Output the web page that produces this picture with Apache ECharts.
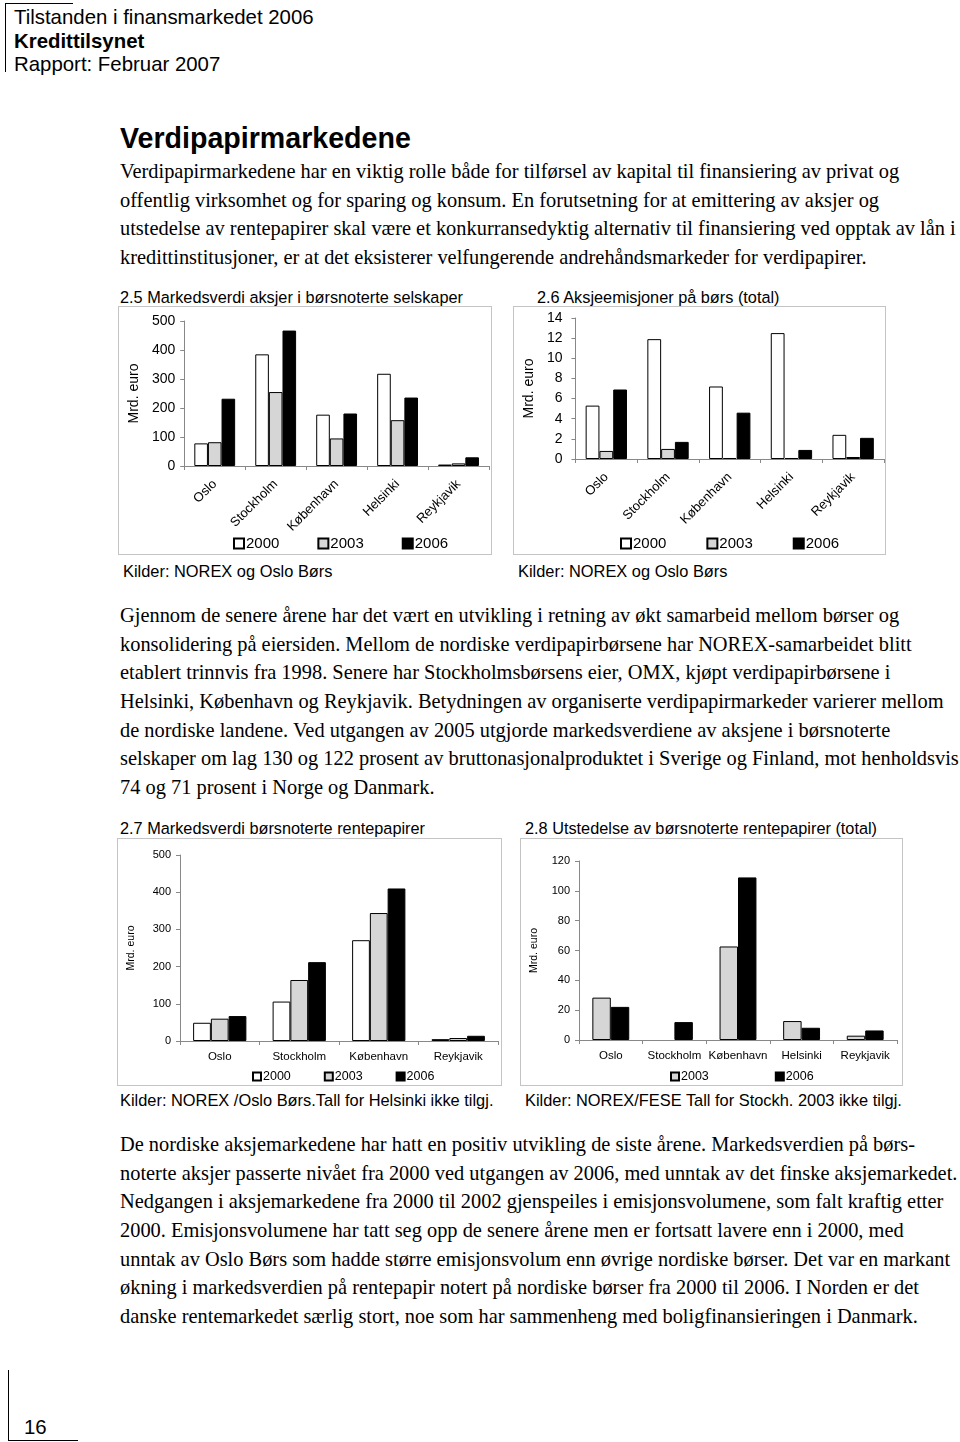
<!DOCTYPE html>
<html><head><meta charset="utf-8">
<script src="https://cdn.jsdelivr.net/npm/echarts@6/dist/echarts.min.js"></script>
<style>
html,body{margin:0;padding:0;background:#fff;}
body{width:960px;height:1442px;position:relative;overflow:hidden;}
.abs{position:absolute;white-space:nowrap;color:#000;}
.sans{font-family:"Liberation Sans",Arial,sans-serif;}
.serif{font-family:"Liberation Serif","Times New Roman",serif;font-size:20.4px;line-height:28.67px;}
.frame{position:absolute;border:1px solid #c4c4c4;box-sizing:border-box;}
.ctitle{font-size:16.3px;line-height:18px;}
.kil{font-size:16.4px;line-height:18px;}
</style></head><body>
<div style="position:absolute;left:5px;top:3px;width:68px;height:1px;background:#000"></div>
<div style="position:absolute;left:5px;top:3px;width:1px;height:69px;background:#000"></div>
<div class="abs sans" style="left:14px;top:6px;font-size:20.4px;line-height:23.5px;">Tilstanden i finansmarkedet 2006<br><b>Kredittilsynet</b><br>Rapport: Februar 2007</div>

<div class="abs sans" style="left:120px;top:121px;font-size:28.6px;line-height:34px;font-weight:bold;">Verdipapirmarkedene</div>
<div class="abs serif" style="left:120px;top:157px;">Verdipapirmarkedene har en viktig rolle både for tilførsel av kapital til finansiering av privat og<br>offentlig virksomhet og for sparing og konsum. En forutsetning for at emittering av aksjer og<br>utstedelse av rentepapirer skal være et konkurransedyktig alternativ til finansiering ved opptak av lån i<br>kredittinstitusjoner, er at det eksisterer velfungerende andrehåndsmarkeder for verdipapirer.</div>

<div class="abs sans ctitle" style="left:120px;top:288px;">2.5 Markedsverdi aksjer i børsnoterte selskaper</div>
<div class="abs sans ctitle" style="left:537px;top:288px;">2.6 Aksjeemisjoner på børs (total)</div>
<div id="c1" class="frame" style="left:118px;top:306px;width:374px;height:249px;"></div>
<div id="c2" class="frame" style="left:513px;top:306px;width:373px;height:249px;"></div>
<div class="abs sans kil" style="left:123px;top:562px;">Kilder: NOREX og Oslo Børs</div>
<div class="abs sans kil" style="left:518px;top:562px;">Kilder: NOREX og Oslo Børs</div>

<div class="abs serif" style="left:120px;top:601px;">Gjennom de senere årene har det vært en utvikling i retning av økt samarbeid mellom børser og<br>konsolidering på eiersiden. Mellom de nordiske verdipapirbørsene har NOREX-samarbeidet blitt<br>etablert trinnvis fra 1998. Senere har Stockholmsbørsens eier, OMX, kjøpt verdipapirbørsene i<br>Helsinki, København og Reykjavik. Betydningen av organiserte verdipapirmarkeder varierer mellom<br>de nordiske landene. Ved utgangen av 2005 utgjorde markedsverdiene av aksjene i børsnoterte<br>selskaper om lag 130 og 122 prosent av bruttonasjonalproduktet i Sverige og Finland, mot henholdsvis<br>74 og 71 prosent i Norge og Danmark.</div>

<div class="abs sans ctitle" style="left:120px;top:819px;">2.7 Markedsverdi børsnoterte rentepapirer</div>
<div class="abs sans ctitle" style="left:525px;top:819px;">2.8 Utstedelse av børsnoterte rentepapirer (total)</div>
<div id="c3" class="frame" style="left:117px;top:838px;width:385px;height:248px;"></div>
<div id="c4" class="frame" style="left:520px;top:838px;width:383px;height:248px;"></div>
<div class="abs sans kil" style="left:120px;top:1091px;">Kilder: NOREX /Oslo Børs.Tall for Helsinki ikke tilgj.</div>
<div class="abs sans kil" style="left:525px;top:1091px;">Kilder: NOREX/FESE Tall for Stockh. 2003 ikke tilgj.</div>

<div class="abs serif" style="left:120px;top:1130px;">De nordiske aksjemarkedene har hatt en positiv utvikling de siste årene. Markedsverdien på børs-<br>noterte aksjer passerte nivået fra 2000 ved utgangen av 2006, med unntak av det finske aksjemarkedet.<br>Nedgangen i aksjemarkedene fra 2000 til 2002 gjenspeiles i emisjonsvolumene, som falt kraftig etter<br>2000. Emisjonsvolumene har tatt seg opp de senere årene men er fortsatt lavere enn i 2000, med<br>unntak av Oslo Børs som hadde større emisjonsvolum enn øvrige nordiske børser. Det var en markant<br>økning i markedsverdien på rentepapir notert på nordiske børser fra 2000 til 2006. I Norden er det<br>danske rentemarkedet særlig stort, noe som har sammenheng med boligfinansieringen i Danmark.</div>

<div style="position:absolute;left:8px;top:1370px;width:1px;height:71px;background:#000"></div>
<div style="position:absolute;left:8px;top:1440px;width:70px;height:1px;background:#000"></div>
<div class="abs sans" style="left:24px;top:1415px;font-size:20.4px;line-height:24px;">16</div>

<script>
// ---- data ----
const catsAll = ['Oslo', 'Stockholm', 'København', 'Helsinki', 'Reykjavik'];
const years3 = ['2000', '2003', '2006'];
// 2.5 Markedsverdi aksjer (Mrd. euro)
const mv2000 = [78, 385, 177, 318, 5];
const mv2003 = [82, 255, 95, 158, 9];
const mv2006 = [232, 467, 181, 236, 30];
// 2.6 Aksjeemisjoner (Mrd. euro)
const em2000 = [5.3, 11.9, 7.2, 12.5, 2.4];
const em2003 = [0.8, 1.0, 0.1, 0.1, 0.2];
const em2006 = [6.9, 1.7, 4.6, 0.9, 2.1];
// 2.7 Markedsverdi rentepapirer (Mrd. euro)
const catsRente = ['Oslo', 'Stockholm', 'København', 'Reykjavik'];
const rv2000 = [49, 106, 271, 5];
const rv2003 = [60, 164, 344, 8];
const rv2006 = [67, 212, 410, 14];
// 2.8 Utstedelse rentepapirer (Mrd. euro)
const years2 = ['2003', '2006'];
const ut2003 = [28.4, null, 62.7, 12.7, 2.9];
const ut2006 = [22.2, 12, 109, 8.2, 6.4];
// ticks
const ticks25 = {min: 0, max: 500, interval: 100};
const ticks26 = {min: 0, max: 14, interval: 2};
const ticks27 = {min: 0, max: 500, interval: 100};
const ticks28 = {min: 0, max: 120, interval: 20};

const FONT = '"Liberation Sans", Arial, sans-serif';
const styles = {
  '2000': {color: '#ffffff', borderColor: '#000', borderWidth: 1},
  '2003': {color: '#d6d6d6', borderColor: '#000', borderWidth: 1},
  '2006': {color: '#000000', borderColor: '#000', borderWidth: 1}
};
function mkSeries(names, arrs, catGap) {
  return names.map((n, i) => ({
    name: n, type: 'bar', data: arrs[i], barGap: '0%', barCategoryGap: catGap,
    itemStyle: styles[n], emphasis: {disabled: true}, animation: false
  }));
}
function build(el, cfg) {
  const ch = echarts.init(document.getElementById(el), null, {renderer: 'canvas'});
  ch.setOption({
    animation: false,
    grid: cfg.grid,
    legend: Object.assign({
      data: cfg.names, icon: 'rect', padding: 0,
      textStyle: {fontFamily: FONT, fontSize: cfg.legFont, color: '#000', padding: [0, 0, 0, -3]},
      selectedMode: false
    }, cfg.legend),
    xAxis: {
      type: 'category', data: cfg.cats, boundaryGap: true,
      axisLine: {lineStyle: {color: '#888', width: 1}},
      axisTick: {show: true, alignWithLabel: false, length: 4, lineStyle: {color: '#888'}},
      axisLabel: Object.assign({color: '#000', fontFamily: FONT, interval: 0}, cfg.xLabel)
    },
    yAxis: Object.assign({
      type: 'value',
      name: 'Mrd. euro', nameLocation: 'middle', nameRotate: 90, nameGap: cfg.nameGap,
      nameTextStyle: {fontFamily: FONT, fontSize: cfg.nameFont, color: '#000'},
      axisLine: {show: true, lineStyle: {color: '#888', width: 1}},
      axisTick: {show: true, length: 4, lineStyle: {color: '#888'}},
      splitLine: {show: false},
      axisLabel: {color: '#000', fontFamily: FONT, fontSize: cfg.yFont, margin: cfg.yMargin}
    }, cfg.ticks),
    series: mkSeries(cfg.names, cfg.data, cfg.catGap)
  });
}
build('c1', {
  grid: {left: 61, top: 14, right: 2, bottom: 88},
  names: years3, cats: catsAll, data: [mv2000, mv2003, mv2006], catGap: '33%',
  ticks: ticks25, nameGap: 43, nameFont: 14, yFont: 14, yMargin: 9,
  xLabel: {rotate: 45, fontSize: 13, margin: 16},
  legFont: 15, legend: {left: 114, top: 229, itemGap: 38, itemWidth: 10, itemHeight: 10}
});
build('c2', {
  grid: {left: 52, top: 11, right: 1, bottom: 95},
  names: years3, cats: catsAll, data: [em2000, em2003, em2006], catGap: '33%',
  ticks: ticks26, nameGap: 39, nameFont: 14, yFont: 14, yMargin: 13,
  xLabel: {rotate: 45, fontSize: 13, margin: 16},
  legFont: 15, legend: {left: 106, top: 229, itemGap: 40, itemWidth: 10, itemHeight: 10}
});
build('c3', {
  grid: {left: 53, top: 16, right: 3, bottom: 44},
  names: years3, cats: catsRente, data: [rv2000, rv2003, rv2006], catGap: '33%',
  ticks: ticks27, nameGap: 43, nameFont: 10.5, yFont: 11, yMargin: 9,
  xLabel: {rotate: 0, fontSize: 11.5, margin: 10},
  legFont: 12.5, legend: {left: 134, top: 231, itemGap: 33, itemWidth: 8, itemHeight: 8}
});
build('c4', {
  grid: {left: 48, top: 22, right: 5, bottom: 45},
  names: years2, cats: catsAll, data: [ut2003, ut2006], catGap: '42%',
  ticks: ticks28, nameGap: 39, nameFont: 10.5, yFont: 11, yMargin: 9,
  xLabel: {rotate: 0, fontSize: 11.5, margin: 10},
  legFont: 12.5, legend: {left: 149, top: 231, itemGap: 66, itemWidth: 8, itemHeight: 8}
});
</script>
</body></html>
